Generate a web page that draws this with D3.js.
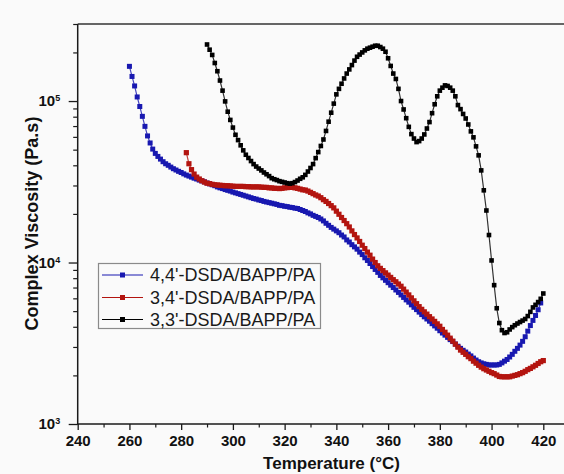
<!DOCTYPE html>
<html><head><meta charset="utf-8">
<script src="https://cdn.jsdelivr.net/npm/d3@7"></script>
<style>
html,body{margin:0;padding:0;background:#fafafa;}
svg{display:block;font-family:"Liberation Sans",Arial,sans-serif;}
</style></head>
<body>
<script>
// ---- data ----
const seriesNames = ["4,4'-DSDA/BAPP/PA", "3,4'-DSDA/BAPP/PA", "3,3'-DSDA/BAPP/PA"];
const tempStep = 1; // °C between readings
const blueStartT = 260;
const blueVisc = [
164000,142000,124000,106000,92500,80400,69700,60800,55000,50400,
47400,45400,43700,42100,40900,40000,39000,38100,37400,36700,
36100,35400,34800,34300,33800,33300,32900,32400,32000,31600,
31100,30700,30300,29900,29400,29000,28700,28300,28000,27700,
27300,27000,26700,26400,26100,25800,25500,25200,24900,24700,
24400,24200,23900,23700,23500,23300,23100,22900,22600,22500,
22300,22200,22000,21900,21700,21600,21300,21000,20700,20300,
20000,19600,19300,19000,18600,18100,17500,17000,16500,16100,
15700,15300,14800,14400,13800,13400,12900,12500,12100,11600,
11200,10700,10300,9860,9440,9060,8690,8320,8040,7760,
7500,7240,7000,6760,6530,6300,6080,5870,5680,5470,
5280,5110,4930,4760,4610,4470,4330,4180,4050,3920,
3780,3660,3550,3440,3330,3240,3130,3030,2940,2860,
2790,2710,2640,2560,2490,2430,2390,2360,2340,2320,
2320,2320,2320,2340,2390,2450,2510,2600,2700,2820,
2940,3080,3250,3470,3760,4070,4380,4700,5100,5620];
const redStartT = 282;
const redVisc = [
47900,40900,37600,35300,33800,32900,32100,31500,31000,30800,
30500,30300,30200,30100,30000,29900,29900,29800,29700,29600,
29600,29600,29600,29500,29500,29400,29400,29400,29400,29300,
29200,29200,29000,29000,28800,28800,28700,28800,29000,29100,
29200,29200,29000,28800,28500,28200,28100,27700,27200,26700,
26200,25800,25200,24500,23900,23200,22500,21800,20800,19900,
19000,18200,17400,16600,15700,14900,14200,13500,12800,12200,
11600,11100,10500,10000,9550,9200,8910,8630,8360,8090,
7830,7600,7360,7130,6840,6560,6300,6040,5790,5560,
5330,5130,4950,4790,4620,4470,4320,4170,4030,3850,
3700,3550,3400,3260,3120,2990,2870,2780,2700,2610,
2540,2450,2380,2310,2250,2200,2160,2120,2080,2050,
2010,1970,1960,1960,1960,1960,1980,2000,2020,2050,
2080,2120,2170,2210,2260,2310,2370,2430,2470];
const blackStartT = 290;
const blackVisc = [
224000,208000,193000,172000,153000,134000,116000,99500,85900,76400,
68500,61800,57300,53200,49500,46500,44400,42500,40700,39300,
38200,37200,36100,35200,34300,33300,32800,32400,31900,31600,
31300,31000,30800,31000,31500,32200,33000,33700,34900,36600,
38500,40700,44300,48300,52700,57800,65300,74500,84700,96400,
110000,119000,128000,138000,148000,157000,167000,178000,188000,194000,
200000,206000,211000,214000,217000,220000,220000,216000,211000,202000,
184000,165000,148000,137000,119000,100000,88700,78300,69200,62400,
58600,55700,56500,58600,62100,67600,74100,84100,95500,107000,
116000,121000,125000,124000,121000,116000,107000,94400,89100,83200,
78000,71600,64900,59600,52400,46100,37200,28000,21000,14800,
10300,7240,5210,4220,3810,3660,3700,3850,3980,4090,
4190,4280,4370,4470,4660,4950,5270,5470,5690,5960,
6430];
const xTicks = [240,260,280,300,320,340,360,380,400,420];
const xMinorTicks = [250,270,290,310,330,350,370,390,410];
const yTickExps = [3,4,5];
const xLabel = "Temperature (\u00B0C)";
const yLabel = "Complex Viscosity (Pa.s)";
const colors = ["#1818b0", "#b3140f", "#000000"];

// ---- chart ----
const W = 564, H = 474;
const svg = d3.select("body").append("svg").attr("width", W).attr("height", H);
svg.append("rect").attr("width", W).attr("height", H).attr("fill", "#fafafa");

const pL = 77.7, pR = 543.3, pT = 24, pB = 424;
const x = d3.scaleLinear().domain([240, 420]).range([pL, pR]);
const y = d3.scaleLog().domain([1000, 300000]).range([pB, pT]);

function toPts(startT, vals){ return vals.map((v,i)=>({t:startT + i*tempStep, v})); }
const series = [
  {name: seriesNames[0], color: colors[0], ms: 5, pts: toPts(blueStartT, blueVisc)},
  {name: seriesNames[1], color: colors[1], ms: 5.2, pts: toPts(redStartT, redVisc)},
  {name: seriesNames[2], color: colors[2], ms: 4.6, pts: toPts(blackStartT, blackVisc)}
];

const axisColor = "#1a1a1a";
svg.append("line").attr("x1", pL).attr("x2", W).attr("y1", pT).attr("y2", pT)
  .attr("stroke", "#333").attr("stroke-width", 1.5);

// x axis
const xAxis = svg.append("g").attr("transform", `translate(0,${pB})`)
  .call(d3.axisBottom(x).tickValues(xTicks).tickSize(6).tickSizeOuter(0).tickFormat(d3.format("d")));
xAxis.select(".domain").remove();
xAxis.selectAll(".tick line").attr("stroke", axisColor).attr("stroke-width", 1.3);
xAxis.selectAll(".tick text").attr("font-size", 15).attr("font-weight", "bold")
  .attr("fill", "#111").attr("dy", "1.05em").attr("y", 6);
svg.append("g").attr("transform", `translate(0,${pB})`)
  .call(d3.axisBottom(x).tickValues(xMinorTicks).tickSize(3.5).tickFormat(""))
  .call(g => g.select(".domain").remove())
  .selectAll(".tick line").attr("stroke", axisColor).attr("stroke-width", 1.2);
svg.append("line").attr("x1", pL).attr("x2", W).attr("y1", pB).attr("y2", pB)
  .attr("stroke", axisColor).attr("stroke-width", 1.5);

// y axis
const yMajor = yTickExps.map(e => Math.pow(10, e));
const yMinor = [];
yTickExps.forEach(e => { for (let m = 2; m <= 9; m++) { const v = m * Math.pow(10, e); if (v <= 300000) yMinor.push(v); } });
svg.append("g").attr("transform", `translate(${pL},0)`)
  .call(d3.axisLeft(y).tickValues(yMinor).tickSize(4.5).tickFormat(""))
  .call(g => g.select(".domain").remove())
  .selectAll(".tick line").attr("stroke", axisColor).attr("stroke-width", 1.2);
const yAxis = svg.append("g").attr("transform", `translate(${pL},0)`)
  .call(d3.axisLeft(y).tickValues(yMajor).tickSize(9).tickFormat(""));
yAxis.select(".domain").remove();
yAxis.selectAll(".tick line").attr("stroke", axisColor).attr("stroke-width", 1.3);
yAxis.selectAll(".tick").each(function(d, i){
  const t = d3.select(this).append("text").attr("x", -17.5).attr("dy", "0.3em")
    .attr("text-anchor", "end").attr("fill", "#111").attr("font-weight", "bold").attr("font-size", 15);
  t.append("tspan").text("10");
  t.append("tspan").attr("dy", "-0.55em").attr("font-size", 9).text(String(yTickExps[i]));
});
svg.append("line").attr("x1", pL).attr("x2", pL).attr("y1", pT).attr("y2", pB + 0.75)
  .attr("stroke", axisColor).attr("stroke-width", 1.5);

// labels
svg.append("text").attr("x", 331.5).attr("y", 469).attr("text-anchor", "middle")
  .attr("font-size", 17).attr("font-weight", "bold").attr("fill", "#111").text(xLabel);
svg.append("text").attr("transform", "translate(38,223.5) rotate(-90)").attr("text-anchor", "middle")
  .attr("font-size", 18).attr("font-weight", "bold").attr("fill", "#111").text(yLabel);

// series
svg.append("clipPath").attr("id", "plotclip").append("rect")
  .attr("x", pL).attr("y", pT).attr("width", W - pL).attr("height", pB - pT);
const plot = svg.append("g").attr("clip-path", "url(#plotclip)");
const line = d3.line().x(d => x(d.t)).y(d => y(d.v));
series.forEach(s => {
  const g = plot.append("g");
  g.append("path").datum(s.pts).attr("d", line).attr("fill", "none")
    .attr("stroke", s.color).attr("stroke-width", 1.2).attr("stroke-opacity", 0.8);
  g.selectAll("rect").data(s.pts).join("rect")
    .attr("x", d => x(d.t) - s.ms/2).attr("y", d => y(d.v) - s.ms/2)
    .attr("width", s.ms).attr("height", s.ms).attr("fill", s.color);
});

// legend
const lg = svg.append("g");
lg.append("rect").attr("x", 98.5).attr("y", 263.5).attr("width", 222).attr("height", 65)
  .attr("fill", "#fafafa").attr("stroke", "#8a8a8a").attr("stroke-width", 1.2);
const rowY = [275, 297.5, 319.5];
series.forEach((s, i) => {
  lg.append("line").attr("x1", 102).attr("x2", 143).attr("y1", rowY[i]).attr("y2", rowY[i])
    .attr("stroke", s.color).attr("stroke-width", 1);
  lg.append("rect").attr("x", 122.5 - 2.5).attr("y", rowY[i] - 2.5).attr("width", 5).attr("height", 5)
    .attr("fill", s.color);
  lg.append("text").attr("x", 150).attr("y", rowY[i]).attr("dy", "0.36em")
    .attr("font-size", 18).attr("fill", "#1a1a1a").text(s.name);
});
</script>
</body></html>
